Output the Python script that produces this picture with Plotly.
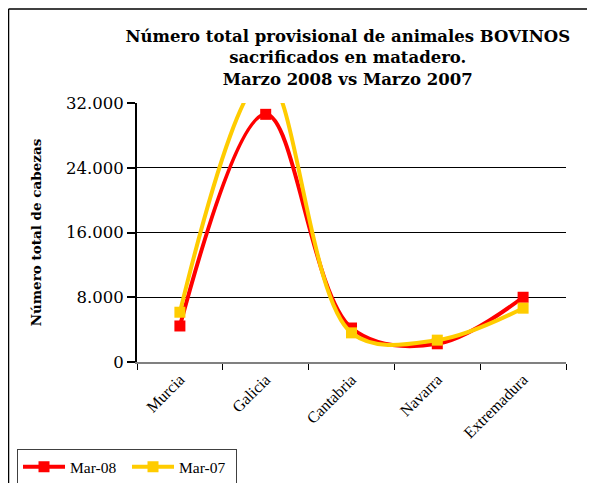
import plotly.graph_objects as go

regiones = ["Murcia", "Galicia", "Cantabria", "Navarra", "Extremadura"]
mar_08 = [4450, 30600, 4200, 2250, 8000]
mar_07 = [6150, 35200, 3600, 2700, 6650]

fig = go.Figure()
fig.add_trace(go.Scatter(x=regiones, y=mar_08, name="Mar-08", mode="lines+markers",
                         line=dict(color="#FF0000", width=4, shape="spline"),
                         marker=dict(symbol="square", size=11, color="#FF0000")))
fig.add_trace(go.Scatter(x=regiones, y=mar_07, name="Mar-07", mode="lines+markers",
                         line=dict(color="#FFCC00", width=4, shape="spline"),
                         marker=dict(symbol="square", size=11, color="#FFCC00")))

# the page body adds 8px, so the margins below are shifted by that much
fig.update_layout(
    width=595, height=483,
    margin=dict(l=129, r=37, t=95, b=129, autoexpand=False),
    paper_bgcolor="white", plot_bgcolor="white",
    separators=",.",
    title=dict(text="Número total provisional de animales BOVINOS<br>sacrificados en matadero.<br>Marzo 2008 vs Marzo 2007",
               x=0.571, xanchor="center", y=0.93, yanchor="top",
               font=dict(family="DejaVu Serif", size=16.5, color="black", weight="bold")),
    font=dict(family="Liberation Serif", color="black"),
    showlegend=True,
    legend=dict(orientation="h", x=-0.2797, y=-0.337, xanchor="left", yanchor="top",
                bordercolor="#404040", borderwidth=1, bgcolor="white",
                font=dict(family="Liberation Serif", size=15.5),
                itemwidth=42, entrywidth=52, tracegroupgap=0),
    shapes=[dict(type="line", xref="paper", yref="paper", x0=-0.2995, x1=1.2, y0=1.363, y1=1.363,
                 line=dict(color="black", width=1.5)),
            dict(type="line", xref="paper", yref="paper", x0=-0.2995, x1=-0.2995, y0=1.363, y1=-0.6,
                 line=dict(color="black", width=1.5))],
)

fig.update_xaxes(type="category", range=[-0.5, 4.5], tickson="boundaries", automargin=False,
                 showline=True, linecolor="#808080", linewidth=2,
                 ticks="outside", ticklen=6, tickcolor="black", tickwidth=1,
                 tickangle=-45, tickfont=dict(family="Liberation Serif", size=16),
                 showgrid=False)
fig.update_yaxes(range=[0, 32000], tickvals=[0, 8000, 16000, 24000, 32000], automargin=False,
                 tickformat=",d", showline=True, linecolor="black", linewidth=2,
                 ticks="outside", ticklen=8, tickcolor="black", tickwidth=2,
                 showgrid=True, gridcolor="black", gridwidth=1, zeroline=False,
                 tickfont=dict(family="DejaVu Serif", size=16.5),
                 title=dict(text="Número total de cabezas", standoff=21,
                            font=dict(family="DejaVu Serif", size=13.5, weight="bold")))

fig.write_html("out.html")
